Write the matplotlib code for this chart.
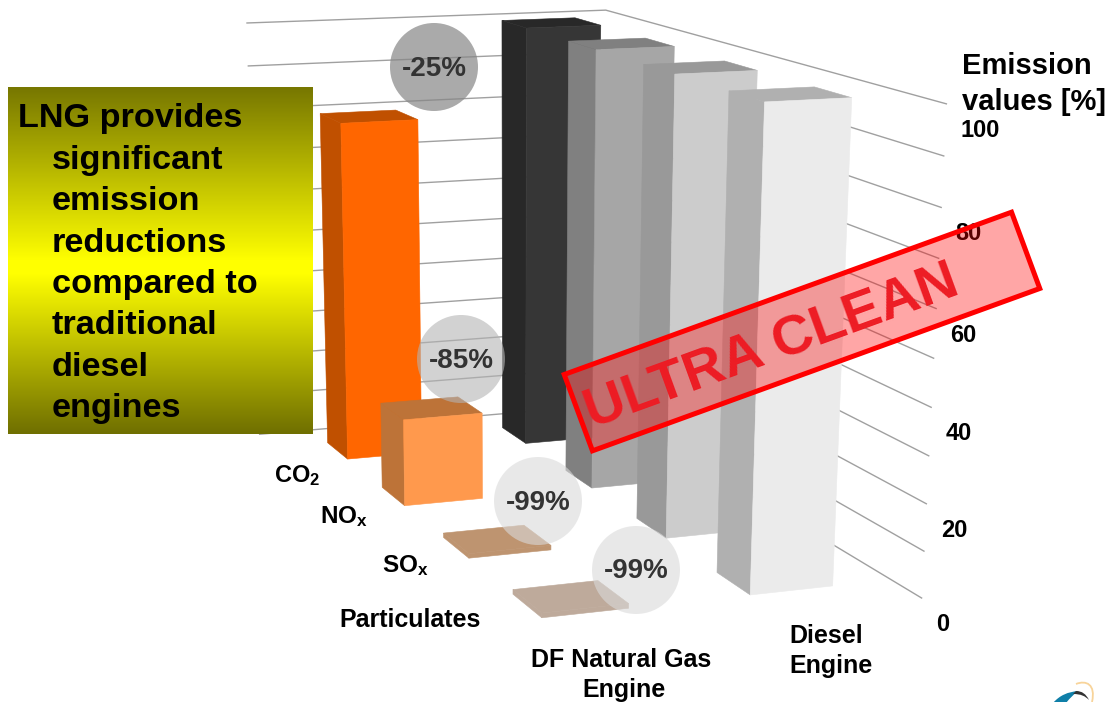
import numpy as np
import matplotlib
matplotlib.use("Agg")
import matplotlib.pyplot as plt
from matplotlib.patches import Polygon, Circle, PathPatch
from matplotlib.path import Path
from matplotlib.colors import LinearSegmentedColormap

plt.rcParams['font.family'] = ['Liberation Sans', 'DejaVu Sans']
plt.rcParams['font.weight'] = 'bold'
plt.rcParams['mathtext.default'] = 'regular'

# Emission values in percent, one entry per pollutant
pollutants = ['CO$_2$', 'NO$_x$', 'SO$_x$', 'Particulates']
diesel_values = [100, 100, 100, 100]
gas_values = [80, 20, 1, 1]
reductions = ['-25%', '-85%', '-99%', '-99%']
engines = ['DF Natural Gas\nEngine', 'Diesel\nEngine']
ticks = [0, 20, 40, 60, 80, 100]
gridlines = [0, 10, 20, 30, 40, 50, 60, 70, 80, 90, 100]
message = ['LNG provides', 'significant', 'emission', 'reductions',
           'compared to', 'traditional', 'diesel', 'engines']

# Perspective camera: maps (pollutant depth, engine row, height) to the canvas
CAMERA = np.array([
    [31.911289, -176.23309, -23.306816, 601.624385],
    [16.948129, 5.668623, -395.74421, 405.419538],
    [-0.052174, -0.020143, -0.045336, 1.0],
])
GAP_DEPTH, GAP_ROW = 0.31, 0.295
N_DEPTH, N_ROWS = 4, 2


def proj(a, b, value):
    v = CAMERA @ np.array([a, b, value / 100.0, 1.0])
    return v[0] / v[2], v[1] / v[2]


fig = plt.figure(figsize=(11.19, 7.02), dpi=100)
ax = fig.add_axes([0, 0, 1, 1])
ax.set_xlim(0, 1119)
ax.set_ylim(702, 0)
ax.axis('off')

# Back walls with their gridlines
for t in gridlines:
    wall = [proj(0, N_ROWS, t), proj(0, 0, t), proj(N_DEPTH, 0, t)]
    ax.plot(*zip(*wall), color='#a0a0a0', lw=1.0, zorder=1,
            solid_joinstyle='miter')


def bar(depth, row, value, front_color, side_color, zorder):
    a0, a1 = depth + GAP_DEPTH, depth + 1 - GAP_DEPTH
    b0, b1 = row + GAP_ROW, row + 1 - GAP_ROW
    front = [proj(a1, b0, 0), proj(a1, b1, 0), proj(a1, b1, value), proj(a1, b0, value)]
    side = [proj(a0, b1, 0), proj(a1, b1, 0), proj(a1, b1, value), proj(a0, b1, value)]
    top = [proj(a0, b0, value), proj(a1, b0, value), proj(a1, b1, value), proj(a0, b1, value)]
    for poly, c in ((side, side_color), (top, side_color), (front, front_color)):
        ax.add_patch(Polygon(poly, closed=True, fc=c, ec=c, lw=0.4, zorder=zorder))


diesel_colors = [('#363636', '#282828'), ('#a6a6a6', '#808080'),
                 ('#cccccc', '#999999'), ('#ebebeb', '#b0b0b0')]
gas_colors = [('#ff6600', '#c05000'), ('#ff994d', '#bd7338'),
              ('#be9470', '#be9470'), ('#beaa9b', '#beaa9b')]
for i, v in enumerate(diesel_values):
    bar(i, 0, v, *diesel_colors[i], 3 + i)
for i, v in enumerate(gas_values):
    bar(i, 1, v, *gas_colors[i], 3 + i)

# Reduction badges
badge_centers = [(434, 67), (461, 359), (538, 501), (636, 570)]
badge_colors = ['#868686', '#b4b4b4', '#dadada', '#dadada']
badge_alpha = [0.7, 0.6, 0.6, 0.6]
for label, c, col, al in zip(reductions, badge_centers, badge_colors, badge_alpha):
    ax.add_patch(Circle(c, 44, fc=col, ec='none', alpha=al, zorder=10))
    ax.text(c[0], c[1] + 1.5, label, fontsize=20, color='#333333', ha='center',
            va='center', zorder=11)

# Vertical axis labels follow the front end of the gridlines
for t in ticks:
    x, y = proj(N_DEPTH, 0, t)
    ax.text(x + 14.5, y + 26.5, str(t), fontsize=17, color='black', ha='left',
            va='center', zorder=8)
ax.text(961.5, 73.5, 'Emission', fontsize=21, color='black', va='baseline', zorder=8)
ax.text(961.5, 110, 'values [%]', fontsize=21, color='black', va='baseline', zorder=8)

# Pollutant and engine labels
pollutant_pos = [(274, 482, 17), (320, 523, 17.5), (382, 572, 17.5), (339, 627, 18)]
for label, (x, y, fs) in zip(pollutants, pollutant_pos):
    ax.text(x, y, label, fontsize=fs, color='black', va='baseline', zorder=8)
gas_lines = engines[0].split('\n')
ax.text(621, 667, gas_lines[0], fontsize=18, ha='center', va='baseline', zorder=8)
ax.text(624.5, 697, gas_lines[1], fontsize=18, ha='center', va='baseline', zorder=8)
diesel_lines = engines[1].split('\n')
ax.text(789, 643, diesel_lines[0], fontsize=18, va='baseline', zorder=8)
ax.text(789, 673, diesel_lines[1], fontsize=18, va='baseline', zorder=8)

# Message panel with a vertical olive-yellow-olive gradient
cmap = LinearSegmentedColormap.from_list(
    'panel', [(0, '#777700'), (0.5, '#ffff00'), (0.54, '#ffff00'), (1, '#6f6f00')], N=1024)
grad = np.linspace(0, 1, 348)[:, None]
ax.imshow(grad, cmap=cmap, vmin=0, vmax=1, extent=(8, 313, 434, 87), aspect='auto',
          zorder=6, interpolation='nearest')
ax.set_xlim(0, 1119)
ax.set_ylim(702, 0)
for k, line in enumerate(message):
    x = 18 if k == 0 else 52
    ax.text(x, 127 + k * 41.5, line, fontsize=24.7, color='black', va='baseline', zorder=7)

# "ULTRA CLEAN" stamp
cx, cy = 802, 331.5
u = np.array([0.9397, -0.341])
v = np.array([0.347, 0.9375])
half_w, half_h = 238, 40.7
stamp = [np.array([cx, cy]) + sx * half_w * u + sy * half_h * v
         for sx, sy in ((-1, -1), (1, -1), (1, 1), (-1, 1))]
ax.add_patch(Polygon(stamp, closed=True, fc=(1, 0, 0, 0.35), ec='#ff0000', lw=3.6,
                     joinstyle='miter', zorder=12))
ax.text(777, 361, 'ULTRA CLEAN', fontsize=40.5, color='#ed1c24', rotation=20,
        rotation_mode='anchor', ha='center', va='baseline', zorder=13)

# Corner logo, cut off by the lower edge
swoosh = Path([(1053, 703), (1060, 695), (1068, 692), (1078, 691),
               (1074, 694), (1070, 698), (1066, 703), (1053, 703)],
              [Path.MOVETO, Path.CURVE4, Path.CURVE4, Path.CURVE4,
               Path.CURVE4, Path.CURVE4, Path.CURVE4, Path.CLOSEPOLY])
ax.add_patch(PathPatch(swoosh, fc='#0f7fa8', ec='none', zorder=9))
tip = Path([(1076, 691), (1082, 691), (1086, 694), (1089, 700),
            (1085, 696), (1081, 694), (1073, 694), (1076, 691)],
           [Path.MOVETO, Path.CURVE4, Path.CURVE4, Path.CURVE4,
            Path.CURVE4, Path.CURVE4, Path.CURVE4, Path.CLOSEPOLY])
ax.add_patch(PathPatch(tip, fc='#333333', ec='none', zorder=9))
arc = Path([(1076, 684), (1086, 680), (1096, 684), (1092, 702)],
           [Path.MOVETO, Path.CURVE4, Path.CURVE4, Path.CURVE4])
ax.add_patch(PathPatch(arc, fc='none', ec='#f8d49a', lw=1.3, zorder=9))

fig.savefig('out.png', dpi=100)
